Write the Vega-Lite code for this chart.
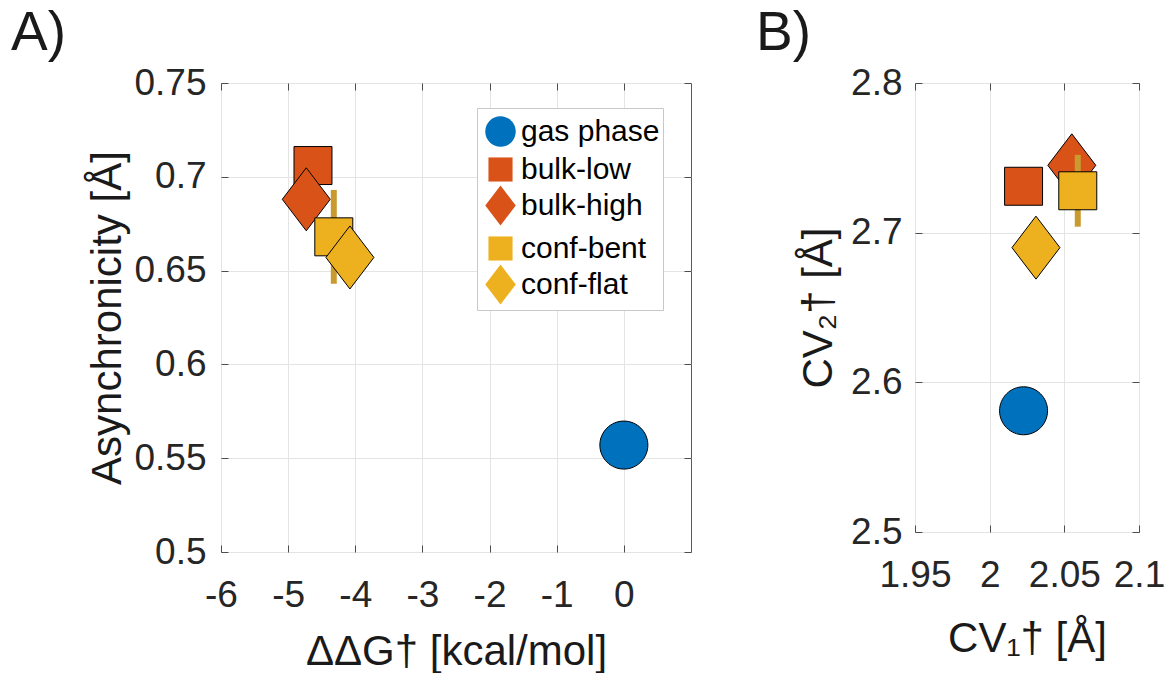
{
  "$schema": "https://vega.github.io/schema/vega-lite/v6.json",
  "background": "white",
  "padding": {"left": 10, "top": 5, "right": 0, "bottom": 0},
  "bounds": "flush",
  "spacing": 224,
  "config": {
    "font": "Liberation Sans",
    "view": {"stroke": "#5a5a5a", "strokeWidth": 1},
    "axis": {
      "labelFontSize": 37,
      "labelColor": "#262626",
      "labelFont": "Liberation Sans",
      "titleFont": "Liberation Sans",
      "titleFontSize": 42,
      "titleFontWeight": "normal",
      "titleColor": "#1a1a1a",
      "gridColor": "#e4e4e4",
      "gridWidth": 1,
      "domain": false,
      "tickColor": "#4d4d4d",
      "tickSize": -7,
      "labelFlush": false,
      "labelOverlap": false
    },
    "legend": {
      "symbolSize": 1600,
      "symbolStrokeColor": "black",
      "symbolStrokeWidth": 1,
      "symbolOpacity": 1
    }
  },
  "datasets": {
    "a": [
      {"series": "gas phase", "x": 0, "y": 0.557},
      {"series": "bulk-low", "x": -4.63, "y": 0.706},
      {"series": "bulk-high", "x": -4.73, "y": 0.688},
      {"series": "conf-bent", "x": -4.32, "y": 0.668},
      {"series": "conf-flat", "x": -4.08, "y": 0.657}
    ],
    "a_err": [{"series": "conf-bent", "x": -4.32, "lo": 0.643, "hi": 0.693}],
    "b": [
      {"series": "gas phase", "x": 2.0227, "y": 2.581},
      {"series": "bulk-low", "x": 2.0227, "y": 2.731},
      {"series": "bulk-high", "x": 2.055, "y": 2.745},
      {"series": "conf-bent", "x": 2.059, "y": 2.728},
      {"series": "conf-flat", "x": 2.031, "y": 2.69}
    ],
    "b_err": [{"series": "conf-bent", "x": 2.059, "lo": 2.704, "hi": 2.752}]
  },
  "resolve": {
    "scale": {"x": "independent", "y": "independent", "color": "independent", "shape": "independent"},
    "legend": {"color": "independent", "shape": "independent"}
  },
  "hconcat": [
    {
      "width": 470,
      "height": 469,
      "title": {"text": "A)", "anchor": "start", "frame": "group", "dx": -210, "offset": -41, "baseline": "alphabetic", "fontSize": 55, "fontWeight": "normal", "color": "#1a1a1a", "font": "Liberation Sans"},
      "resolve": {"axis": {"x": "independent", "y": "independent"}},
      "layer": [
        {
          "data": {"name": "a"},
          "transform": [{"filter": "datum.series === 'gas phase' || datum.series === 'bulk-low' || datum.series === 'bulk-high'"}],
          "mark": {"type": "point", "filled": true, "opacity": 1, "stroke": "black", "strokeWidth": 1, "size": 3969},
          "encoding": {
            "x": {"field": "x", "type": "quantitative", "scale": {"domain": [-6, 1], "nice": false, "zero": false},
                  "axis": {"orient": "bottom", "values": [-6, -5, -4, -3, -2, -1, 0], "labelExpr": "'' + datum.value", "title": "ΔΔG† [kcal/mol]", "labelPadding": 32, "titlePadding": 18}},
            "y": {"field": "y", "type": "quantitative", "scale": {"domain": [0.5, 0.75], "nice": false, "zero": false},
                  "axis": {"orient": "left", "values": [0.5, 0.55, 0.6, 0.65, 0.7, 0.75], "labelExpr": "'' + datum.value", "title": "Asynchronicity [Å]", "labelPadding": 22, "titlePadding": 4}},
            "color": {"field": "series", "type": "nominal",
                      "scale": {"domain": ["gas phase", "bulk-low", "bulk-high", "conf-bent", "conf-flat"], "range": ["#0072BD", "#D95319", "#D95319", "#EDB120", "#EDB120"]},
                      "legend": {"orient": "none", "legendX": 256, "legendY": 25, "title": null, "labelFontSize": 30, "labelColor": "black", "labelFont": "Liberation Sans", "strokeColor": "#c8c8c8", "fillColor": "white", "padding": 3, "rowPadding": -3, "labelOffset": 0, "symbolSize": 1600}},
            "shape": {"field": "series", "type": "nominal",
                      "scale": {"domain": ["gas phase", "bulk-low", "bulk-high", "conf-bent", "conf-flat"],
                                "range": ["M0.762,0A0.762,0.762,0,1,1,-0.762,0A0.762,0.762,0,1,1,0.762,0Z", "M-0.603,-0.603L0.603,-0.603L0.603,0.603L-0.603,0.603Z", "M-0.762,0L0,-1L0.762,0L0,1Z", "M-0.603,-0.603L0.603,-0.603L0.603,0.603L-0.603,0.603Z", "M-0.762,0L0,-1L0.762,0L0,1Z"]},
                      "legend": {"orient": "none", "legendX": 256, "legendY": 25, "title": null, "labelFontSize": 30, "labelColor": "black", "labelFont": "Liberation Sans", "strokeColor": "#c8c8c8", "fillColor": "white", "padding": 3, "rowPadding": -3, "labelOffset": 0, "symbolSize": 1600}}
          }
        },
        {
          "data": {"name": "a_err"},
          "mark": {"type": "rule", "color": "#c99a2e", "strokeWidth": 6, "strokeCap": "butt"},
          "encoding": {
            "x": {"field": "x", "type": "quantitative", "axis": {"orient": "top", "values": [-6, -5, -4, -3, -2, -1, 0], "labels": false, "grid": false, "title": null}},
            "y": {"field": "lo", "type": "quantitative", "axis": {"orient": "right", "values": [0.5, 0.55, 0.6, 0.65, 0.7, 0.75], "labels": false, "grid": false, "title": null}},
            "y2": {"field": "hi"}
          }
        },
        {
          "data": {"name": "a"},
          "transform": [{"filter": "datum.series === 'conf-bent' || datum.series === 'conf-flat'"}],
          "mark": {"type": "point", "filled": true, "opacity": 1, "stroke": "black", "strokeWidth": 1, "size": 3969},
          "encoding": {
            "x": {"field": "x", "type": "quantitative", "axis": null},
            "y": {"field": "y", "type": "quantitative", "axis": null},
            "color": {"field": "series", "type": "nominal",
                      "scale": {"domain": ["gas phase", "bulk-low", "bulk-high", "conf-bent", "conf-flat"], "range": ["#0072BD", "#D95319", "#D95319", "#EDB120", "#EDB120"]},
                      "legend": {"orient": "none", "legendX": 256, "legendY": 25, "title": null, "labelFontSize": 30, "labelColor": "black", "labelFont": "Liberation Sans", "strokeColor": "#c8c8c8", "fillColor": "white", "padding": 3, "rowPadding": -3, "labelOffset": 0, "symbolSize": 1600}},
            "shape": {"field": "series", "type": "nominal",
                      "scale": {"domain": ["gas phase", "bulk-low", "bulk-high", "conf-bent", "conf-flat"],
                                "range": ["M0.762,0A0.762,0.762,0,1,1,-0.762,0A0.762,0.762,0,1,1,0.762,0Z", "M-0.603,-0.603L0.603,-0.603L0.603,0.603L-0.603,0.603Z", "M-0.762,0L0,-1L0.762,0L0,1Z", "M-0.603,-0.603L0.603,-0.603L0.603,0.603L-0.603,0.603Z", "M-0.762,0L0,-1L0.762,0L0,1Z"]},
                      "legend": {"orient": "none", "legendX": 256, "legendY": 25, "title": null, "labelFontSize": 30, "labelColor": "black", "labelFont": "Liberation Sans", "strokeColor": "#c8c8c8", "fillColor": "white", "padding": 3, "rowPadding": -3, "labelOffset": 0, "symbolSize": 1600}}
          }
        }
      ]
    },
    {
      "width": 224,
      "height": 449,
      "title": {"text": "B)", "anchor": "start", "frame": "group", "dx": -159, "offset": -41, "baseline": "alphabetic", "fontSize": 55, "fontWeight": "normal", "color": "#1a1a1a", "font": "Liberation Sans"},
      "resolve": {"axis": {"x": "independent", "y": "independent"}},
      "layer": [
        {
          "data": {"name": "b"},
          "transform": [{"filter": "datum.series === 'gas phase' || datum.series === 'bulk-low' || datum.series === 'bulk-high'"}],
          "mark": {"type": "point", "filled": true, "opacity": 1, "stroke": "black", "strokeWidth": 1, "size": 3969},
          "encoding": {
            "x": {"field": "x", "type": "quantitative", "scale": {"domain": [1.95, 2.1], "nice": false, "zero": false},
                  "axis": {"orient": "bottom", "values": [1.95, 2, 2.05, 2.1], "labelExpr": "'' + datum.value", "title": "CV₁† [Å]", "labelPadding": 32, "titlePadding": 25}},
            "y": {"field": "y", "type": "quantitative", "scale": {"domain": [2.5, 2.8], "nice": false, "zero": false},
                  "axis": {"orient": "left", "values": [2.5, 2.6, 2.7, 2.8], "labelExpr": "'' + datum.value", "title": "CV₂† [Å]", "labelPadding": 20, "titlePadding": 10}},
            "color": {"field": "series", "type": "nominal",
                      "scale": {"domain": ["gas phase", "bulk-low", "bulk-high", "conf-bent", "conf-flat"], "range": ["#0072BD", "#D95319", "#D95319", "#EDB120", "#EDB120"]}, "legend": null},
            "shape": {"field": "series", "type": "nominal",
                      "scale": {"domain": ["gas phase", "bulk-low", "bulk-high", "conf-bent", "conf-flat"],
                                "range": ["M0.762,0A0.762,0.762,0,1,1,-0.762,0A0.762,0.762,0,1,1,0.762,0Z", "M-0.603,-0.603L0.603,-0.603L0.603,0.603L-0.603,0.603Z", "M-0.762,0L0,-1L0.762,0L0,1Z", "M-0.603,-0.603L0.603,-0.603L0.603,0.603L-0.603,0.603Z", "M-0.762,0L0,-1L0.762,0L0,1Z"]}, "legend": null}
          }
        },
        {
          "data": {"name": "b_err"},
          "mark": {"type": "rule", "color": "#c99a2e", "strokeWidth": 6, "strokeCap": "butt"},
          "encoding": {
            "x": {"field": "x", "type": "quantitative", "axis": {"orient": "top", "values": [1.95, 2, 2.05, 2.1], "labels": false, "grid": false, "title": null}},
            "y": {"field": "lo", "type": "quantitative", "axis": {"orient": "right", "values": [2.5, 2.6, 2.7, 2.8], "labels": false, "grid": false, "title": null}},
            "y2": {"field": "hi"}
          }
        },
        {
          "data": {"name": "b"},
          "transform": [{"filter": "datum.series === 'conf-bent' || datum.series === 'conf-flat'"}],
          "mark": {"type": "point", "filled": true, "opacity": 1, "stroke": "black", "strokeWidth": 1, "size": 3969},
          "encoding": {
            "x": {"field": "x", "type": "quantitative", "axis": null},
            "y": {"field": "y", "type": "quantitative", "axis": null},
            "color": {"field": "series", "type": "nominal",
                      "scale": {"domain": ["gas phase", "bulk-low", "bulk-high", "conf-bent", "conf-flat"], "range": ["#0072BD", "#D95319", "#D95319", "#EDB120", "#EDB120"]}, "legend": null},
            "shape": {"field": "series", "type": "nominal",
                      "scale": {"domain": ["gas phase", "bulk-low", "bulk-high", "conf-bent", "conf-flat"],
                                "range": ["M0.762,0A0.762,0.762,0,1,1,-0.762,0A0.762,0.762,0,1,1,0.762,0Z", "M-0.603,-0.603L0.603,-0.603L0.603,0.603L-0.603,0.603Z", "M-0.762,0L0,-1L0.762,0L0,1Z", "M-0.603,-0.603L0.603,-0.603L0.603,0.603L-0.603,0.603Z", "M-0.762,0L0,-1L0.762,0L0,1Z"]}, "legend": null}
          }
        }
      ]
    }
  ]
}
